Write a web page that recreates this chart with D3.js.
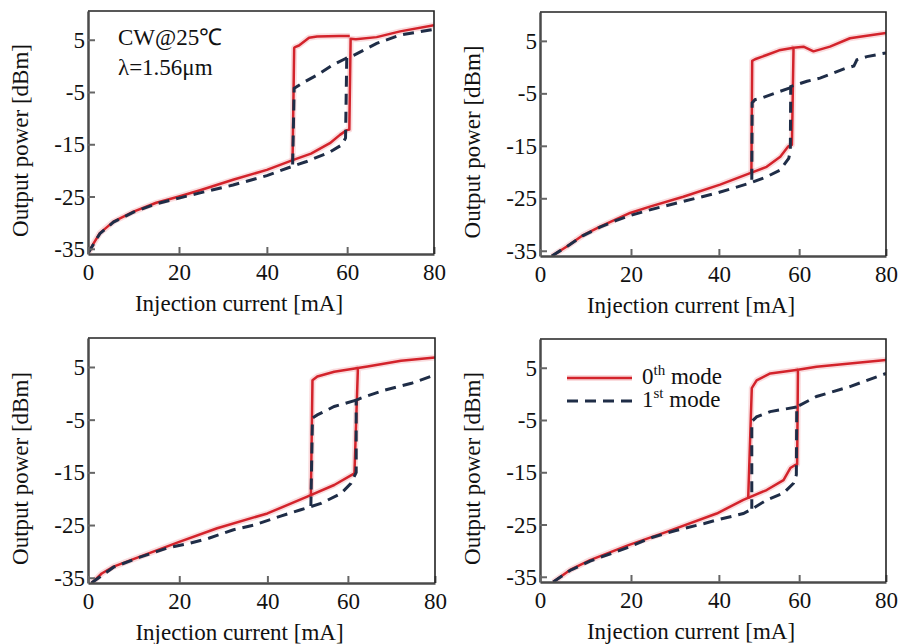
<!DOCTYPE html>
<html>
<head>
<meta charset="utf-8">
<script src="https://cdn.jsdelivr.net/npm/d3@7"></script>
<style>
body { margin: 0; background: #fff; }
text { font-family: "Liberation Serif", "Times New Roman", serif; fill: #111; }
</style>
</head>
<body>
<div id="chart"></div>
<script>
// ticks
const xTicks = [0, 20, 40, 60, 80]
const yTicks = [5, -5, -15, -25, -35]
const yDomain = [-36, 10.5]

// [current mA, power dBm]
// "Back" arrays = the return sweep of the hysteresis loop
const p1Red = [[0,-35.9],[1.2,-34],[2.6,-32],[5.6,-29.8],[10,-27.9],[15,-26.2],[20,-25],[24.8,-23.8],[32.3,-21.8],[40,-19.9],[46.6,-18],[51,-16.8],[55.7,-14.8],[58.2,-13.2],[59.9,-12.3],[60.5,-12.2],[60.8,5.2],[62,5.1],[66.8,5.5],[72.2,6.6],[80,7.8]]
const p1RedBack = [[60.6,5.7],[58,5.7],[52.5,5.6],[50.5,5.4],[48,3.9],[47,3.6],[46.8,3.4],[46.4,-18]]
const p1Dash = [[0,-35.9],[2.6,-32.1],[5.6,-29.9],[10,-28],[15,-26.4],[20,-25.3],[24.8,-24.3],[32.3,-22.8],[40,-21],[45.7,-19.4],[49.9,-18.3],[55.7,-16.5],[58.7,-15.1],[59.6,-13.8],[59.9,1.5],[61.5,2],[66.8,4.3],[72.2,5.9],[80,7]]
const p1DashBack = [[59.9,1.5],[56,0],[52.4,-1.8],[49,-3.2],[46.8,-4.3],[46.4,-19.6]]

const p2Red = [[2.6,-36],[5.9,-34.2],[9.5,-32],[13.2,-30.4],[19.8,-27.8],[24.3,-26.6],[31.9,-24.7],[40.3,-22.4],[47.8,-20.2],[51.9,-19],[55.3,-17.1],[57.3,-15.1],[58.2,-14.8],[58.6,3.7],[61,3.9],[63.3,3],[67.1,3.9],[71.7,5.5],[74,5.8],[80,6.5]]
const p2RedBack = [[58.6,3.7],[55,3.2],[51.9,2.3],[49,1.5],[48.3,1.2],[48.1,-20.2]]
const p2Dash = [[2.6,-36],[5.9,-34.2],[9.5,-32.1],[13.2,-30.5],[16.8,-29.2],[19.8,-28.3],[24.3,-27.2],[31.9,-25.6],[39.5,-24],[47.8,-22.1],[51.9,-20.9],[55.3,-19.6],[57.4,-17.4],[57.8,-16],[57.9,-3.7],[61.8,-2.7],[64.8,-2.1],[70.5,-0.3],[72.6,0.2],[73.3,1.4],[75.6,2],[80,2.7]]
const p2DashBack = [[57.9,-3.9],[55.3,-4.6],[51,-5.8],[49,-6.2],[48.3,-6.8],[48.2,-21.8]]

const p3Red = [[0.8,-36],[1.2,-35.7],[3,-34.2],[5.6,-32.9],[11.4,-31],[20,-28.2],[28.6,-25.6],[40,-22.8],[49.9,-19.6],[56.6,-17.4],[61.5,-15.2],[62.3,4.8],[64.5,5.1],[72.2,6.2],[80,6.8]]
const p3RedBack = [[62.3,4.8],[56.6,4.1],[52.4,3.2],[51.2,2.5],[50.8,-19.6]]
const p3Dash = [[0.8,-36],[1.2,-35.7],[5.6,-33],[11.4,-31.1],[17.2,-29.4],[22.2,-28.5],[26.7,-27.5],[32.3,-25.9],[37,-25],[43.3,-23.3],[48.3,-22.1],[53.3,-20.9],[58.3,-19],[60.7,-17.1],[61.9,-15],[61.9,-1.3],[63,-0.9],[68.4,0.6],[74.6,1.9],[80,3.5]]
const p3DashBack = [[61.9,-1.3],[56.6,-2.5],[52.4,-4.1],[51.2,-4.7],[50.8,-21.4]]

const p4Red = [[2.9,-36],[6.6,-33.7],[11,-31.8],[19.6,-28.9],[28.1,-26.4],[39.5,-22.9],[46.1,-20.3],[51.9,-18.4],[56.1,-16.5],[57.8,-14.2],[59,-13.6],[59.5,-13.5],[59.7,4.6],[64,5.2],[71.7,5.8],[80,6.5]]
const p4RedBack = [[59.7,4.6],[52.8,3.9],[49.4,2.6],[48.2,1.1],[47.3,-20.1]]
const p4Dash = [[2.9,-36],[6.6,-33.8],[11,-32],[19.6,-29.3],[24.3,-27.6],[30.4,-26.1],[36.7,-24.8],[39.7,-24.1],[46.1,-22.9],[48.3,-22],[51.9,-20.3],[56.1,-19],[58.6,-17.1],[59.3,-15.5],[59.4,-2.5],[64,-0.5],[71.7,1.4],[80,3.9]]
const p4DashBack = [[59.4,-2.5],[52.8,-3.4],[49.4,-4.4],[48.2,-5.3],[48.2,-22]]

const noteLines = ["CW@25\u2103", "\u03bb=1.56\u03bcm"]
const legendItems = [{base: "0", sup: "th", rest: " mode"}, {base: "1", sup: "st", rest: " mode"}]

const xLabel = "Injection current [mA]"
const yLabel = "Output power [dBm]"

// the x ticks in the source figure are not evenly spaced
const xTickPos = [0, 0.263, 0.517, 0.749, 1]

const red = "#d3232b"
const navy = "#1f2d47"

const panels = [
    {left: 88, top: 11, w: 346, h: 243, red: p1Red, redBack: p1RedBack, dash: p1Dash, dashBack: p1DashBack, note: true},
    {left: 540, top: 12, w: 346, h: 244, red: p2Red, redBack: p2RedBack, dash: p2Dash, dashBack: p2DashBack},
    {left: 88, top: 338, w: 347, h: 245, red: p3Red, redBack: p3RedBack, dash: p3Dash, dashBack: p3DashBack},
    {left: 540, top: 339, w: 346, h: 243, red: p4Red, redBack: p4RedBack, dash: p4Dash, dashBack: p4DashBack, legend: true}
]

const svg = d3.select('#chart').append("svg")
    .attr("width", 901)
    .attr("height", 644)
    .style("background", "white")

panels.forEach((p, i) => {
    const g = svg.append("g")
        .attr("transform", `translate(${p.left},${p.top})`)

    const x = d3.scaleLinear()
        .domain(xTicks)
        .range(xTickPos.map(f => f * p.w))

    const y = d3.scaleLinear()
        .domain(yDomain)
        .range([p.h, 0])

    g.append("clipPath")
        .attr("id", "clip" + i)
      .append("rect")
        .attr("width", p.w)
        .attr("height", p.h)

    const line = d3.line()
        .x(d => x(d[0]))
        .y(d => y(d[1]))

    const plot = g.append("g").attr("clip-path", `url(#clip${i})`)

    // soft pink halo of the red trace
    ;[p.red, p.redBack].forEach(s => {
        plot.append("path")
            .datum(s)
            .attr("d", line)
            .attr("fill", "none")
            .attr("stroke", "#f08a92")
            .attr("stroke-opacity", 0.3)
            .attr("stroke-width", 6)
            .attr("stroke-linejoin", "round")
    })
    ;[p.red, p.redBack].forEach(s => {
        plot.append("path")
            .datum(s)
            .attr("d", line)
            .attr("fill", "none")
            .attr("stroke", red)
            .attr("stroke-width", 2.5)
            .attr("stroke-linejoin", "round")
    })
    ;[p.dash, p.dashBack].forEach(s => {
        plot.append("path")
            .datum(s)
            .attr("d", line)
            .attr("fill", "none")
            .attr("stroke", navy)
            .attr("stroke-width", 3)
            .attr("stroke-dasharray", "11,7")
    })

    // axes with inward ticks
    const yAx = d3.axisLeft(y)
        .tickValues(yTicks)
        .tickFormat(d => String(d))
        .tickSizeInner(-7)
        .tickSizeOuter(0)
        .tickPadding(3)

    const xAx = d3.axisBottom(x)
        .tickValues(xTicks)
        .tickFormat(d => String(d))
        .tickSizeInner(-7)
        .tickSizeOuter(0)
        .tickPadding(10)

    const yGroup = g.append("g").call(yAx)
    const xGroup = g.append("g").attr("transform", `translate(0,${p.h})`).call(xAx)

    ;[yGroup, xGroup].forEach(ax => {
        ax.select(".domain").attr("stroke", "#4a4a4a").attr("stroke-width", 2.5)
        ax.selectAll(".tick line").attr("stroke", "#666").attr("stroke-width", 2)
        ax.selectAll(".tick text")
            .attr("fill", "#111")
            .style("font-size", "23px")
            .style("font-family", '"Liberation Serif", "Times New Roman", serif')
    })
    xGroup.selectAll(".tick text").attr("dy", "0.71em")
    yGroup.selectAll(".tick text").attr("dy", "0.33em")

    // top and right edges of the frame
    g.append("path")
        .attr("d", `M0,0H${p.w}V${p.h}`)
        .attr("fill", "none")
        .attr("stroke", "#222")
        .attr("stroke-width", 1.6)

    // axis titles
    g.append("text")
        .attr("x", p.w / 2 - 22)
        .attr("y", p.h + 57)
        .attr("text-anchor", "middle")
        .style("font-size", "23px")
        .text(xLabel)

    g.append("text")
        .attr("transform", `translate(-60,${p.h / 2 + 8}) rotate(-90)`)
        .attr("text-anchor", "middle")
        .style("font-size", "23px")
        .text(yLabel)

    if (p.note) {
        g.selectAll(".note")
            .data(noteLines)
            .join("text")
            .attr("class", "note")
            .attr("x", 30)
            .attr("y", (d, j) => 34 + j * 30)
            .style("font-size", "23px")
            .text(d => d)
    }

    if (p.legend) {
        const lg = g.append("g").attr("transform", "translate(27,39)")
        legendItems.forEach((item, j) => {
            const row = lg.append("g").attr("transform", `translate(0,${j * 23})`)
            if (j === 0) {
                row.append("line").attr("x2", 65)
                    .attr("stroke", "#f08a92").attr("stroke-opacity", 0.3).attr("stroke-width", 6)
                row.append("line").attr("x2", 65)
                    .attr("stroke", red).attr("stroke-width", 2.5)
            } else {
                row.append("line").attr("x2", 65)
                    .attr("stroke", navy).attr("stroke-width", 3).attr("stroke-dasharray", "11,7")
            }
            const t = row.append("text")
                .attr("x", 75)
                .attr("y", 6)
                .style("font-size", "23px")
            t.append("tspan").text(item.base)
            t.append("tspan").attr("dy", -9).style("font-size", "15px").text(item.sup)
            t.append("tspan").attr("dy", 9).text(item.rest)
        })
    }
})
</script>
</body>
</html>
